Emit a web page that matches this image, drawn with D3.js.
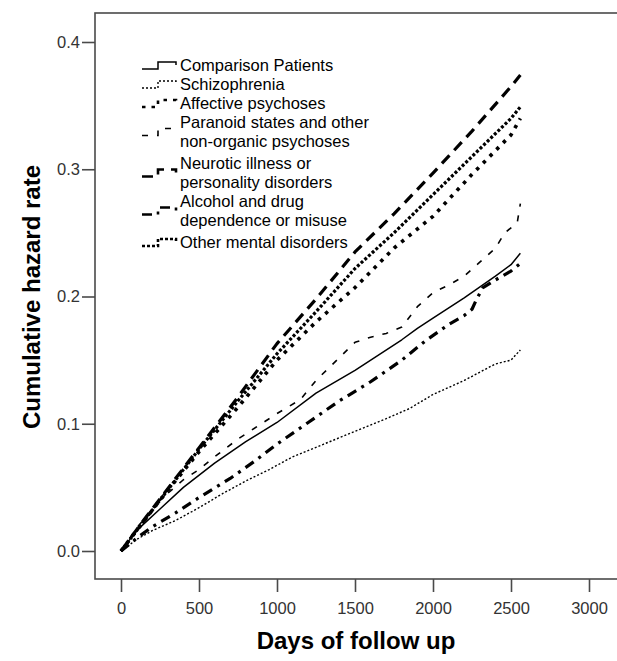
<!DOCTYPE html>
<html>
<head>
<meta charset="utf-8">
<script src="https://cdn.jsdelivr.net/npm/d3@7"></script>
<style>
  html, body { margin: 0; padding: 0; background: #fff; }
  svg { display: block; }
</style>
</head>
<body>
<svg id="chart" width="617" height="661"></svg>
<script>
// ---- Data (days, cumulative hazard) ----
const legendLabels = [
  ["Comparison Patients"],
  ["Schizophrenia"],
  ["Affective psychoses"],
  ["Paranoid states and other", "non-organic psychoses"],
  ["Neurotic illness or", "personality disorders"],
  ["Alcohol and drug", "dependence or misuse"],
  ["Other mental disorders"]
];
const xTicks = [0, 500, 1000, 1500, 2000, 2500, 3000];
const yTicks = [0.0, 0.1, 0.2, 0.3, 0.4];

const comparison = [[0,0],[100,0.016],[250,0.033],[400,0.050],[600,0.069],[800,0.086],[1000,0.101],[1250,0.124],[1500,0.142],[1800,0.166],[1900,0.175],[2000,0.183],[2200,0.199],[2400,0.216],[2500,0.225],[2560,0.234]];
const schizophrenia = [[0,0],[100,0.009],[200,0.016],[350,0.024],[500,0.034],[650,0.045],[800,0.055],[950,0.064],[1100,0.074],[1300,0.084],[1500,0.094],[1700,0.104],[1850,0.112],[2000,0.123],[2200,0.134],[2400,0.147],[2500,0.150],[2560,0.158]];
const affective = [[0,0],[150,0.024],[250,0.040],[500,0.078],[750,0.113],[1000,0.150],[1250,0.180],[1500,0.207],[1750,0.238],[2000,0.263],[2250,0.296],[2500,0.327],[2560,0.340]];
const paranoid = [[0,0],[100,0.018],[250,0.040],[400,0.056],[500,0.064],[600,0.074],[750,0.088],[900,0.100],[1000,0.108],[1150,0.119],[1250,0.134],[1400,0.152],[1500,0.164],[1600,0.168],[1700,0.171],[1800,0.176],[1900,0.192],[2000,0.203],[2100,0.209],[2200,0.216],[2300,0.227],[2400,0.238],[2460,0.250],[2540,0.258],[2560,0.273]];
const neurotic = [[0,0],[150,0.025],[250,0.041],[500,0.081],[750,0.121],[1000,0.163],[1250,0.198],[1500,0.235],[1750,0.265],[2000,0.297],[2250,0.330],[2500,0.365],[2560,0.374]];
const alcohol = [[0,0],[100,0.010],[200,0.019],[350,0.030],[500,0.042],[700,0.057],[850,0.070],[1000,0.084],[1200,0.101],[1400,0.118],[1600,0.133],[1800,0.150],[1950,0.165],[2100,0.178],[2200,0.185],[2250,0.190],[2280,0.198],[2320,0.207],[2400,0.213],[2500,0.220],[2560,0.226]];
const otherMental = [[0,0],[150,0.024],[250,0.040],[500,0.080],[750,0.118],[1000,0.155],[1250,0.188],[1500,0.222],[1750,0.250],[2000,0.280],[2250,0.310],[2500,0.340],[2560,0.349]];

const seriesList = [comparison, schizophrenia, affective, paranoid, neurotic, alcohol, otherMental];

// ---- Styles (kept separate from data) ----
const lineStyles = [
  { w: 1.5, dash: null },
  { w: 1.4, dash: "2,2" },
  { w: 3.6, dash: "3.5,6" },
  { w: 1.6, dash: "6,9" },
  { w: 3.2, dash: "11,7" },
  { w: 3.2, dash: "10,6,3,6" },
  { w: 3.2, dash: "3,2" }
];

const FONT = "'Liberation Sans', Arial, sans-serif";
const svg = d3.select("#chart");
const x = d3.scaleLinear().domain([0, 3000]).range([121, 589]);
const y = d3.scaleLinear().domain([0, 0.4]).range([551, 42]);

const frame = { left: 95, top: 13, right: 622, bottom: 579 };
const axisColor = "#4a4a4a";
const textColor = "#333";

// frame
svg.append("rect")
  .attr("x", frame.left).attr("y", frame.top)
  .attr("width", frame.right - frame.left).attr("height", frame.bottom - frame.top)
  .attr("fill", "none").attr("stroke", axisColor).attr("stroke-width", 1.6);

// y axis
const yAxis = d3.axisLeft(y).tickValues(yTicks).tickFormat(d3.format(".1f")).tickSize(13).tickSizeOuter(0);
const gy = svg.append("g").attr("transform", `translate(${frame.left},0)`).call(yAxis);
gy.select(".domain").remove();
gy.selectAll(".tick line").attr("stroke", axisColor).attr("stroke-width", 1.6);
gy.selectAll(".tick text").attr("x", -15).attr("fill", textColor)
  .style("font-family", FONT).style("font-size", "16.5px");

// x axis
const xAxis = d3.axisBottom(x).tickValues(xTicks).tickFormat(d3.format("d")).tickSize(13).tickSizeOuter(0);
const gx = svg.append("g").attr("transform", `translate(0,${frame.bottom})`).call(xAxis);
gx.select(".domain").remove();
gx.selectAll(".tick line").attr("stroke", axisColor).attr("stroke-width", 1.6);
gx.selectAll(".tick text").attr("y", 23).attr("fill", textColor)
  .style("font-family", FONT).style("font-size", "16.5px");

// axis titles
svg.append("text")
  .attr("transform", "translate(40,297) rotate(-90)")
  .attr("text-anchor", "middle")
  .style("font-family", FONT)
  .style("font-weight", "bold").style("font-size", "24px")
  .text("Cumulative hazard rate");

svg.append("text")
  .attr("x", 356).attr("y", 649)
  .attr("text-anchor", "middle")
  .style("font-family", FONT)
  .style("font-weight", "bold").style("font-size", "24px")
  .text("Days of follow up");

// lines
const line = d3.line().x(d => x(d[0])).y(d => y(d[1]));
seriesList.forEach((s, i) => {
  svg.append("path")
    .datum(s)
    .attr("d", line)
    .attr("fill", "none")
    .attr("stroke", "#000")
    .attr("stroke-width", lineStyles[i].w)
    .attr("stroke-dasharray", lineStyles[i].dash)
    .attr("stroke-linejoin", "round");
});

// legend
const legendX = 142;
const textX = 180;
let baseline = 71;
const lineGap = 19;
const entryExtra = [0, 0, 0, 0, 3, 0, 3];
const legend = svg.append("g");
legendLabels.forEach((lines, i) => {
  baseline += entryExtra[i];
  const cy = baseline - 5 + (lines.length > 1 ? lineGap / 2 : 0);
  legend.append("path")
    .attr("d", `M${legendX},${cy + 3}H${legendX + 16}V${cy - 4}H${legendX + 34}V${cy - 1}`)
    .attr("fill", "none").attr("stroke", "#000")
    .attr("stroke-width", Math.min(lineStyles[i].w, 2.6))
    .attr("stroke-dasharray", lineStyles[i].dash);
  lines.forEach((t, j) => {
    legend.append("text")
      .attr("x", textX).attr("y", baseline + j * lineGap)
      .style("font-family", FONT)
      .style("font-size", "16.5px").attr("fill", "#000")
      .text(t);
  });
  baseline += lines.length * lineGap;
});
</script>
</body>
</html>
